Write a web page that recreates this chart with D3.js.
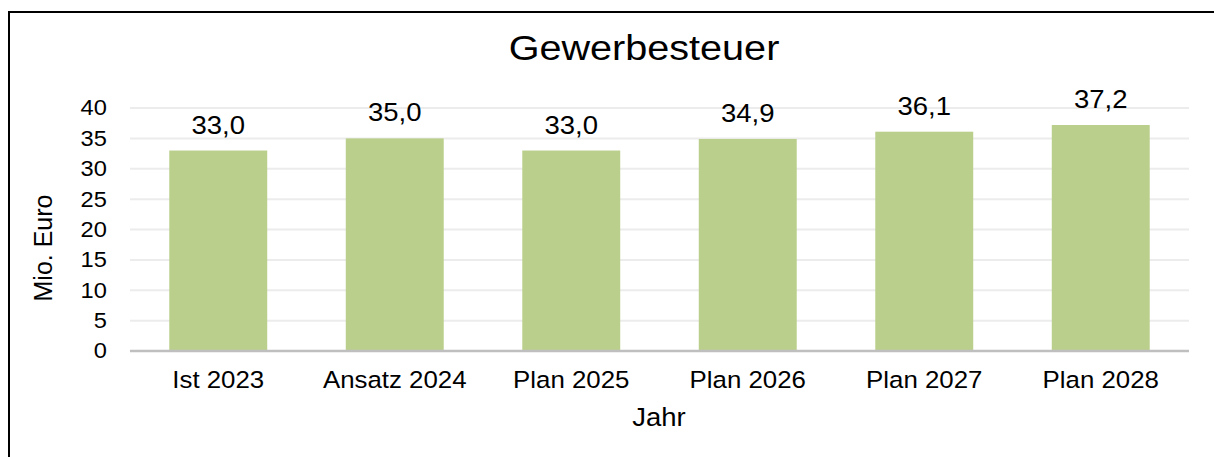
<!DOCTYPE html>
<html>
<head>
<meta charset="utf-8">
<script src="https://cdn.jsdelivr.net/npm/d3@7"></script>
<style>
  body { margin: 0; background: #fff; }
  svg { display: block; font-family: "Liberation Sans", Arial, sans-serif; }
</style>
</head>
<body>
<svg id="chart"></svg>
<script>
// Gewerbesteuer bar chart

const categories = ['Ist 2023', 'Ansatz 2024', 'Plan 2025', 'Plan 2026', 'Plan 2027', 'Plan 2028'];
const values = [33.0, 35.0, 33.0, 34.9, 36.1, 37.2];
const yTicks = [0, 5, 10, 15, 20, 25, 30, 35, 40];

const width = 1214;
const height = 457;
const sx = 1.1; // text in the original is a bit wider than plain Arial

const svg = d3.select('#chart')
    .attr('width', width)
    .attr('height', height);

// outer frame (runs off right/bottom edge)
svg.append('rect')
    .attr('x', 9).attr('y', 12)
    .attr('width', width + 20).attr('height', height + 20)
    .attr('fill', 'none')
    .attr('stroke', '#000')
    .attr('stroke-width', 2);

const plot = {left: 130, right: 1189, top: 108, bottom: 351};

const x = d3.scaleBand()
    .domain(categories)
    .range([plot.left, plot.right])
    .paddingInner(0.445)
    .paddingOuter(0.2225);

const y = d3.scaleLinear()
    .domain([0, 40])
    .range([plot.bottom, plot.top]);

// gridlines
svg.append('g')
    .selectAll('line')
    .data(yTicks.filter(d => d > 0))
    .enter()
    .append('line')
    .attr('x1', plot.left).attr('x2', plot.right)
    .attr('y1', d => y(d)).attr('y2', d => y(d))
    .attr('stroke', '#ececec')
    .attr('stroke-width', 2);

// bars
svg.append('g')
    .selectAll('rect')
    .data(values)
    .enter()
    .append('rect')
    .attr('x', (d, i) => x(categories[i]))
    .attr('y', d => y(d))
    .attr('width', x.bandwidth())
    .attr('height', d => y(0) - y(d))
    .attr('fill', '#bbcf8d');

// value labels
const fmt = v => v.toFixed(1).replace('.', ',');
svg.append('g')
    .selectAll('text')
    .data(values)
    .enter()
    .append('text')
    .attr('transform', (d, i) => `translate(${x(categories[i]) + x.bandwidth() / 2},${y(d) - 17}) scale(${sx},1)`)
    .attr('text-anchor', 'middle')
    .attr('font-size', 25)
    .attr('fill', '#000')
    .text(d => fmt(d));

// x axis
const xAxis = svg.append('g')
    .attr('transform', `translate(0,${plot.bottom})`)
    .call(d3.axisBottom(x).tickSize(0).tickPadding(37));
xAxis.select('.domain')
    .attr('stroke', '#bfbfbf')
    .attr('stroke-width', 2.5)
    .attr('d', `M${plot.left},0H${plot.right}`);
xAxis.selectAll('text')
    .attr('font-size', 23.5)
    .attr('fill', '#000')
    .attr('font-family', '"Liberation Sans", Arial, sans-serif')
    .attr('dy', 0)
    .attr('transform', `scale(${sx},1)`);

// y axis
const yAxis = svg.append('g')
    .attr('transform', `translate(${plot.left},0)`)
    .call(d3.axisLeft(y).tickValues(yTicks).tickSize(0).tickPadding(21));
yAxis.select('.domain').remove();
yAxis.selectAll('text')
    .attr('font-size', 21.5)
    .attr('fill', '#000')
    .attr('font-family', '"Liberation Sans", Arial, sans-serif')
    .attr('transform', `scale(${sx},1)`);

// title
svg.append('text')
    .attr('transform', `translate(644,60) scale(${sx},1)`)
    .attr('text-anchor', 'middle')
    .attr('font-size', 36)
    .attr('fill', '#000')
    .text('Gewerbesteuer');

// axis titles
svg.append('text')
    .attr('transform', `translate(659,426) scale(${sx},1)`)
    .attr('text-anchor', 'middle')
    .attr('font-size', 25)
    .attr('fill', '#000')
    .text('Jahr');

svg.append('text')
    .attr('transform', 'translate(52,248) rotate(-90)')
    .attr('text-anchor', 'middle')
    .attr('font-size', 25)
    .attr('fill', '#000')
    .text('Mio. Euro');
</script>
</body>
</html>
